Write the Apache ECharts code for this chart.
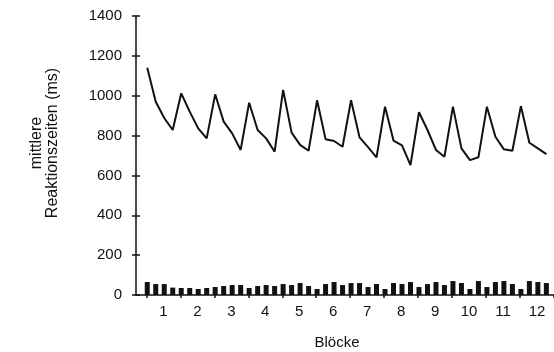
<!DOCTYPE html>
<html>
<head>
<meta charset="utf-8">
<script src="https://cdn.jsdelivr.net/npm/echarts@6/dist/echarts.min.js"></script>
<style>
  html, body { margin: 0; background: #fff; }
  #chart { width: 554px; height: 352px; }
</style>
</head>
<body>
<div id="chart"></div>
<script>
const blocks = ["1", "2", "3", "4", "5", "6", "7", "8", "9", "10", "11", "12"];

// mean reaction time (ms), 4 trial positions per block
const reactionTimes = [
  1140, 970, 888, 828,
  1012, 920, 836, 786,
  1007, 870, 811, 728,
  965, 828, 786, 719,
  1029, 815, 753, 724,
  977, 782, 773, 744,
  977, 791, 742, 691,
  945, 775, 751, 652,
  917, 828, 728, 694,
  945, 736, 677, 691,
  945, 794, 731, 724,
  948, 764, 736, 707
];

// bars at the bottom, same trial positions
const errorBars = [
  65, 55, 55, 37,
  35, 35, 30, 35,
  40, 45, 50, 50,
  35, 45, 50, 45,
  55, 50, 60, 45,
  30, 55, 65, 50,
  60, 60, 40, 55,
  30, 60, 55, 65,
  40, 55, 65, 50,
  70, 60, 30, 70,
  40, 65, 70, 55,
  30, 70, 65, 60
];

const ink = "#111";
const font = "'Liberation Sans', Arial, sans-serif";

const chart = echarts.init(document.getElementById("chart"), null, { renderer: "canvas" });

chart.setOption({
  animation: false,
  backgroundColor: "#fff",
  textStyle: { fontFamily: font },
  grid: [
    { left: 136, top: 16, width: 440, height: 279 },
    { left: 146.4, top: 16, width: 416.6, height: 279 }
  ],
  xAxis: [
    {
      gridIndex: 0, type: "value", min: 0, max: 1,
      axisLine: { show: true, lineStyle: { color: ink, width: 1.5 } },
      axisTick: { show: false }, axisLabel: { show: false }, splitLine: { show: false }
    },
    {
      gridIndex: 1, type: "category", data: blocks, boundaryGap: true,
      axisLine: { show: false },
      axisTick: { show: true, length: 3, lineStyle: { color: ink, width: 1.5 } },
      axisLabel: { color: ink, fontSize: 15, fontFamily: font, margin: 9 }
    },
    { gridIndex: 1, type: "value", min: 0, max: 48, show: false }
  ],
  yAxis: [
    {
      gridIndex: 0, type: "value", position: "left", min: 0, max: 1400, interval: 200,
      axisLine: { show: true, lineStyle: { color: ink, width: 1.5 } },
      axisTick: { show: true, length: 4, lineStyle: { color: ink, width: 1.5 } },
      axisLabel: { color: ink, fontSize: 15, fontFamily: font, margin: 14, formatter: (v) => String(v) },
      splitLine: { show: false }
    },
    {
      gridIndex: 0, type: "value", position: "left", min: 0, max: 1400, interval: 200,
      axisLine: { show: false },
      axisTick: { show: true, inside: true, length: 4, lineStyle: { color: ink, width: 1.5 } },
      axisLabel: { show: false }, splitLine: { show: false }
    },
    { gridIndex: 1, type: "value", min: 0, max: 1400, show: false }
  ],
  series: [
    {
      type: "bar", xAxisIndex: 2, yAxisIndex: 2,
      barWidth: 5,
      itemStyle: { color: ink },
      data: errorBars.map((v, i) => [i + 0.1, v])
    },
    {
      type: "line", xAxisIndex: 2, yAxisIndex: 2,
      symbol: "none",
      lineStyle: { color: ink, width: 2 },
      data: reactionTimes.map((v, i) => [i + 0.1, v])
    }
  ],
  graphic: [
    {
      type: "text", x: 337, y: 343,
      style: { text: "Blöcke", fill: ink, font: "15px " + font, align: "center", verticalAlign: "middle" }
    },
    {
      type: "text", x: 45, y: 143, rotation: Math.PI / 2,
      style: {
        text: "mittlere\nReaktionszeiten (ms)", fill: ink, font: "16px " + font,
        align: "center", verticalAlign: "middle", lineHeight: 16
      }
    }
  ]
});
</script>
</body>
</html>
